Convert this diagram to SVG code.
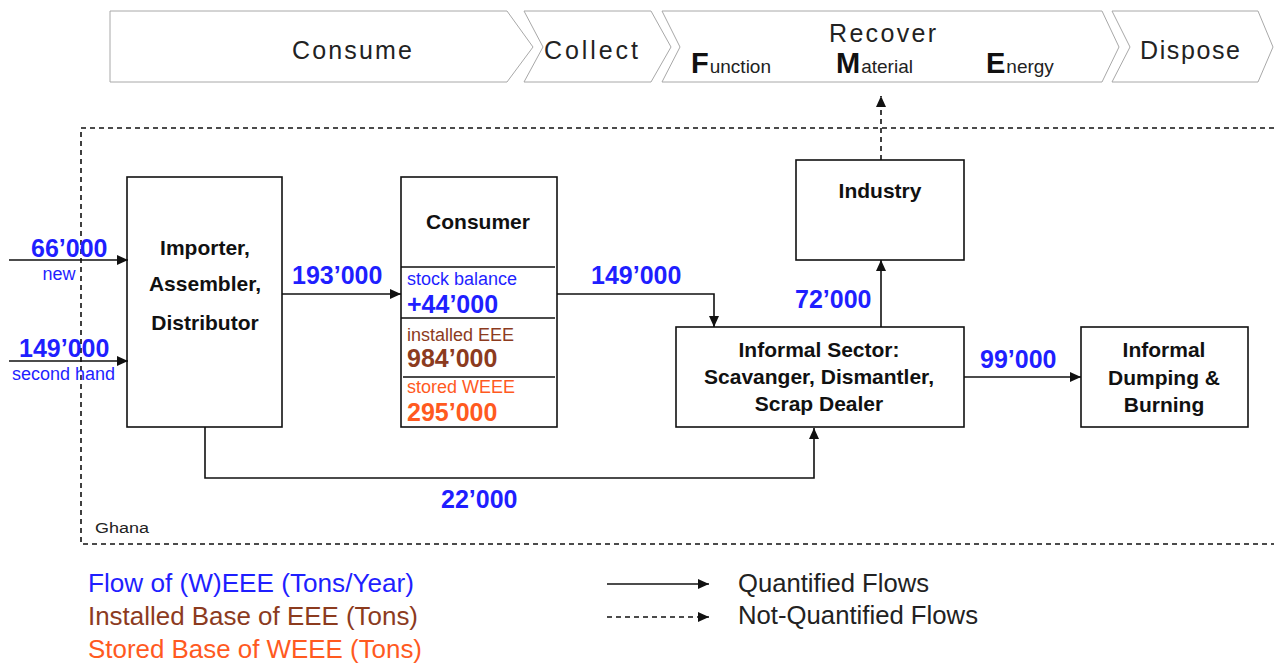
<svg xmlns="http://www.w3.org/2000/svg" width="1274" height="663" viewBox="0 0 1274 663">
<style>
text{font-family:"Liberation Sans",Arial,sans-serif}
.chev{fill:#fff;stroke:#a8a8a8;stroke-width:1}
.stage{font-size:25px;fill:#222}
.big{font-size:29px;font-weight:bold;fill:#111}
.sm{font-size:19px;fill:#222}
.box{fill:#fff;stroke:#111;stroke-width:1.6}
.nt{font-size:21px;font-weight:bold;fill:#111;text-anchor:middle}
.flow{font-size:25px;font-weight:bold;fill:#1f1fff}
.sub{font-size:18px}
.blue{fill:#1f1fff}
.brown{fill:#8c3b1e}
.orange{fill:#ff5a1f}
.conn{fill:none;stroke:#111;stroke-width:1.6}
.dash{stroke-dasharray:5 4}
.leg{font-size:25px}
</style>
<defs>
<marker id="ah" markerUnits="userSpaceOnUse" markerWidth="12" markerHeight="10" refX="11" refY="5" orient="auto">
<path d="M0,0 L11,5 L0,10 z" fill="#111"/>
</marker>
</defs>

<g id="stages">
<path class="chev" d="M110,11 L507,11 L533,47 L507,82 L110,82 Z"/>
<path class="chev" d="M524,11 L651,11 L671,47 L651,82 L524,82 L543,47 Z"/>
<path class="chev" d="M662,11 L1102,11 L1119,47 L1102,82 L662,82 L680,47 Z"/>
<path class="chev" d="M1112,11 L1258,11 L1273,47 L1258,82 L1112,82 L1130,47 Z"/>
<text class="stage" x="292" y="59" textLength="120" lengthAdjust="spacing">Consume</text>
<text class="stage" x="544" y="59" textLength="94" lengthAdjust="spacing">Collect</text>
<text class="stage" x="829" y="42" textLength="107" lengthAdjust="spacing">Recover</text>
<text x="691" y="73"><tspan class="big">F</tspan><tspan class="sm" dx="1">unction</tspan></text>
<text x="836" y="73"><tspan class="big">M</tspan><tspan class="sm" dx="1">aterial</tspan></text>
<text x="986" y="73"><tspan class="big">E</tspan><tspan class="sm" dx="1">nergy</tspan></text>
<text class="stage" x="1140" y="59" textLength="100" lengthAdjust="spacing">Dispose</text>
</g>

<g id="boundary">
<path class="conn dash" d="M1274,128 H81 V544 H1274"/>
<text x="95" y="533" style="font-size:14px;fill:#222" textLength="54" lengthAdjust="spacingAndGlyphs">Ghana</text>
</g>

<g id="importer">
<rect class="box" x="127" y="177" width="155" height="250"/>
<text class="nt" x="205" y="255">Importer,</text>
<text class="nt" x="205" y="291">Assembler,</text>
<text class="nt" x="205" y="330">Distributor</text>
</g>

<g id="consumer">
<rect class="box" x="401" y="177" width="156" height="250"/>
<path class="conn" d="M401,267 H555 M401,318 H555 M403,377 H555"/>
<text class="nt" x="478" y="229">Consumer</text>
<text class="sub blue" x="407" y="285">stock balance</text>
<text class="flow" x="407" y="313">+44’000</text>
<text class="sub brown" x="407" y="341">installed EEE</text>
<text class="flow brown" x="407" y="367">984’000</text>
<text class="sub orange" x="407" y="393">stored WEEE</text>
<text class="flow orange" x="407" y="421">295’000</text>
</g>

<g id="industry">
<rect class="box" x="796" y="160" width="168" height="100"/>
<text class="nt" x="880" y="198">Industry</text>
</g>

<g id="informal-sector">
<rect class="box" x="676" y="327" width="288" height="100"/>
<text class="nt" x="819" y="357">Informal Sector:</text>
<text class="nt" x="819" y="384">Scavanger, Dismantler,</text>
<text class="nt" x="819" y="411">Scrap Dealer</text>
</g>

<g id="dumping">
<rect class="box" x="1081" y="327" width="167" height="100"/>
<text class="nt" x="1164" y="357">Informal</text>
<text class="nt" x="1164" y="385">Dumping &amp;</text>
<text class="nt" x="1164" y="412">Burning</text>
</g>

<g id="connectors">
<path class="conn" d="M9,260 H128" marker-end="url(#ah)"/>
<path class="conn" d="M9,361 H128" marker-end="url(#ah)"/>
<path class="conn" d="M282,294 H401" marker-end="url(#ah)"/>
<path class="conn" d="M557,294 H714 V327" marker-end="url(#ah)"/>
<path class="conn" d="M881,327 V260" marker-end="url(#ah)"/>
<path class="conn" d="M964,377 H1081" marker-end="url(#ah)"/>
<path class="conn" d="M205,427 V478 H814 V428" marker-end="url(#ah)"/>
<path class="conn dash" d="M881,160 V96" marker-end="url(#ah)"/>
<text class="flow" x="31" y="257">66’000</text>
<text class="sub blue" x="59" y="280" text-anchor="middle">new</text>
<text class="flow" x="19" y="357">149’000</text>
<text class="sub blue" x="12" y="380">second hand</text>
<text class="flow" x="292" y="284">193’000</text>
<text class="flow" x="591" y="284">149’000</text>
<text class="flow" x="795" y="308">72’000</text>
<text class="flow" x="980" y="368">99’000</text>
<text class="flow" x="441" y="508">22’000</text>
</g>

<g id="legend">
<text class="leg blue" x="88" y="592" textLength="326" lengthAdjust="spacingAndGlyphs">Flow of (W)EEE (Tons/Year)</text>
<text class="leg brown" x="88" y="625" textLength="330" lengthAdjust="spacingAndGlyphs">Installed Base of EEE (Tons)</text>
<text class="leg orange" x="88" y="658" textLength="334" lengthAdjust="spacingAndGlyphs">Stored Base of WEEE (Tons)</text>
<path class="conn" d="M607,584 H709" marker-end="url(#ah)"/>
<path class="conn dash" d="M607,617 H709" marker-end="url(#ah)"/>
<text class="leg" x="738" y="592" fill="#222" textLength="191" lengthAdjust="spacingAndGlyphs">Quantified Flows</text>
<text class="leg" x="738" y="624" fill="#222" textLength="240" lengthAdjust="spacingAndGlyphs">Not-Quantified Flows</text>
</g>
</svg>
